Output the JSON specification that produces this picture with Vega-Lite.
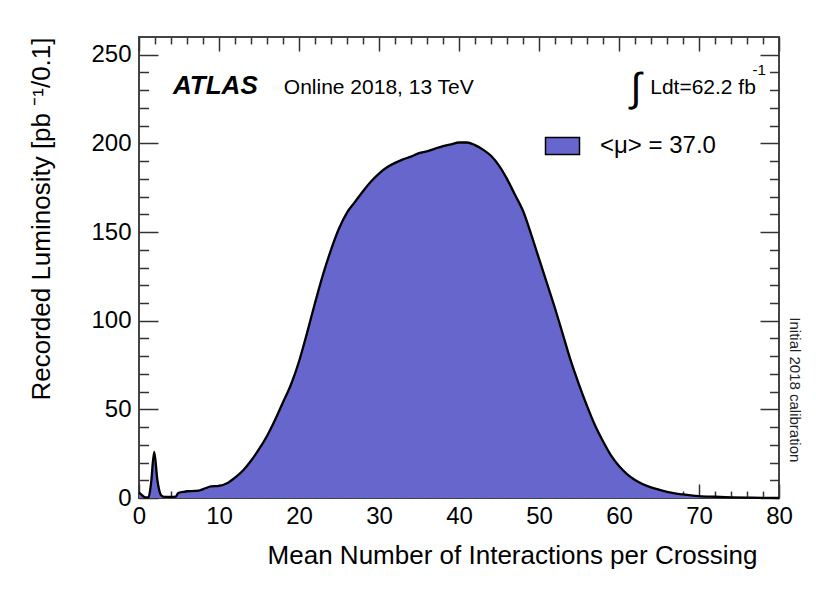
{
  "$schema": "https://vega.github.io/schema/vega-lite/v6.json",
  "width": 640,
  "height": 461,
  "autosize": {"type": "none"},
  "padding": {"left": 139, "top": 37, "right": 37, "bottom": 91},
  "background": "white",
  "config": {
    "font": "Liberation Sans",
    "view": {"stroke": "#444", "strokeWidth": 2},
    "axis": {"domain": false, "grid": false, "tickColor": "#333", "tickWidth": 1.5, "labelColor": "black", "titleColor": "black", "titleFontWeight": "normal", "labelFont": "Liberation Sans", "titleFont": "Liberation Sans"}
  },
  "datasets": {
    "lumi": [
      {"mu": 0, "lum": 3}, {"mu": 0.4, "lum": 1.5}, {"mu": 0.8, "lum": 0.3}, {"mu": 1.2, "lum": 0.5},
      {"mu": 1.5, "lum": 8}, {"mu": 1.9, "lum": 26}, {"mu": 2.3, "lum": 10}, {"mu": 2.7, "lum": 2},
      {"mu": 3.0, "lum": 0.8}, {"mu": 3.5, "lum": 0.6}, {"mu": 4.0, "lum": 0.6}, {"mu": 4.6, "lum": 0.8},
      {"mu": 4.9, "lum": 2.8}, {"mu": 5.5, "lum": 3.4}, {"mu": 6, "lum": 3.8}, {"mu": 7, "lum": 4},
      {"mu": 7.6, "lum": 4.3}, {"mu": 8.3, "lum": 5.5}, {"mu": 9, "lum": 6.5}, {"mu": 10, "lum": 6.8},
      {"mu": 11, "lum": 8.3}, {"mu": 12, "lum": 11.5}, {"mu": 13, "lum": 15.5}, {"mu": 14, "lum": 21},
      {"mu": 15, "lum": 27.5}, {"mu": 16, "lum": 35}, {"mu": 17, "lum": 44}, {"mu": 18, "lum": 54},
      {"mu": 19, "lum": 64}, {"mu": 20, "lum": 77}, {"mu": 21, "lum": 93}, {"mu": 22, "lum": 110},
      {"mu": 23, "lum": 126}, {"mu": 24, "lum": 140}, {"mu": 25, "lum": 152}, {"mu": 26, "lum": 161},
      {"mu": 27, "lum": 167}, {"mu": 28, "lum": 173}, {"mu": 29, "lum": 178.5}, {"mu": 30, "lum": 183},
      {"mu": 31, "lum": 186.5}, {"mu": 32, "lum": 189}, {"mu": 33, "lum": 191}, {"mu": 34, "lum": 192.5},
      {"mu": 35, "lum": 194.5}, {"mu": 36, "lum": 195.5}, {"mu": 37, "lum": 197}, {"mu": 38, "lum": 198.5},
      {"mu": 39, "lum": 199.5}, {"mu": 40, "lum": 200.5}, {"mu": 41, "lum": 200.5}, {"mu": 42, "lum": 199},
      {"mu": 43, "lum": 196.5}, {"mu": 44, "lum": 193}, {"mu": 45, "lum": 187.5}, {"mu": 46, "lum": 180},
      {"mu": 47, "lum": 171}, {"mu": 48, "lum": 162}, {"mu": 49, "lum": 149}, {"mu": 50, "lum": 135},
      {"mu": 51, "lum": 121}, {"mu": 52, "lum": 107}, {"mu": 53, "lum": 92}, {"mu": 54, "lum": 77},
      {"mu": 55, "lum": 64}, {"mu": 56, "lum": 52}, {"mu": 57, "lum": 41}, {"mu": 58, "lum": 32},
      {"mu": 59, "lum": 24}, {"mu": 60, "lum": 18}, {"mu": 61, "lum": 13.5}, {"mu": 62, "lum": 10.2},
      {"mu": 63, "lum": 7.8}, {"mu": 64, "lum": 6}, {"mu": 65, "lum": 4.7}, {"mu": 66, "lum": 3.5},
      {"mu": 67, "lum": 2.6}, {"mu": 68, "lum": 2}, {"mu": 69, "lum": 1.5}, {"mu": 70, "lum": 1.1},
      {"mu": 72, "lum": 0.7}, {"mu": 74, "lum": 0.4}, {"mu": 76, "lum": 0.2}, {"mu": 78, "lum": 0.1},
      {"mu": 80, "lum": 0}
    ]
  },
  "layer": [
    {
      "data": {"name": "lumi"},
      "mark": {"type": "area", "interpolate": "monotone"},
      "encoding": {
        "x": {
          "field": "mu", "type": "quantitative",
          "scale": {"domain": [0, 80], "nice": false, "zero": false},
          "axis": {
            "orient": "bottom",
            "values": [0,2,4,6,8,10,12,14,16,18,20,22,24,26,28,30,32,34,36,38,40,42,44,46,48,50,52,54,56,58,60,62,64,66,68,70,72,74,76,78,80],
            "labelExpr": "datum.value % 10 === 0 ? datum.label : ''",
            "tickSize": {"condition": {"test": "datum.value % 10 === 0", "value": -14}, "value": -7},
            "labelPadding": 20,
            "labelFontSize": 24,
            "labelFlush": false,
            "labelOverlap": false,
            "title": "Mean Number of Interactions per Crossing",
            "titleFontSize": 26,
            "titleX": 618,
            "titleAlign": "right",
            "titlePadding": 7
          }
        },
        "y": {
          "field": "lum", "type": "quantitative",
          "scale": {"domain": [0, 260], "nice": false},
          "axis": {
            "orient": "left",
            "values": [0,10,20,30,40,50,60,70,80,90,100,110,120,130,140,150,160,170,180,190,200,210,220,230,240,250],
            "labelExpr": "datum.value % 50 === 0 ? datum.label : ''",
            "tickSize": {"condition": {"test": "datum.value % 50 === 0", "value": -19}, "value": -9.5},
            "labelPadding": 27,
            "labelFontSize": 24,
            "labelFlush": false,
            "labelOverlap": false,
            "title": "Recorded Luminosity [pb ⁻¹/0.1]",
            "titleFontSize": 26,
            "titleAnchor": "end",
            "titlePadding": 36
          }
        },
        "color": {
          "datum": "<μ> = 37.0",
          "scale": {"range": ["#6666cc"]},
          "legend": {
            "orient": "none",
            "legendX": 411.5,
            "legendY": 97,
            "title": null,
            "padding": 0,
            "labelFontSize": 24,
            "labelColor": "black",
            "labelOffset": 25.5,
            "symbolType": "M-2,-1H2V1H-2Z",
            "symbolSize": 289,
            "symbolStrokeColor": "black",
            "symbolStrokeWidth": 1.5,
            "symbolOpacity": 1
          }
        }
      }
    },
    {
      "data": {"name": "lumi"},
      "mark": {"type": "line", "interpolate": "monotone", "color": "black", "strokeWidth": 2.3},
      "encoding": {
        "x": {
          "field": "mu", "type": "quantitative",
          "scale": {"domain": [0, 80], "nice": false, "zero": false},
          "axis": {
            "orient": "top",
            "values": [0,2,4,6,8,10,12,14,16,18,20,22,24,26,28,30,32,34,36,38,40,42,44,46,48,50,52,54,56,58,60,62,64,66,68,70,72,74,76,78,80],
            "labels": false,
            "title": null,
            "tickSize": {"condition": {"test": "datum.value % 10 === 0", "value": -14}, "value": -7}
          }
        },
        "y": {
          "field": "lum", "type": "quantitative",
          "scale": {"domain": [0, 260], "nice": false},
          "axis": {
            "orient": "right",
            "values": [0,10,20,30,40,50,60,70,80,90,100,110,120,130,140,150,160,170,180,190,200,210,220,230,240,250],
            "labels": false,
            "title": null,
            "tickSize": {"condition": {"test": "datum.value % 50 === 0", "value": -19}, "value": -9.5}
          }
        }
      }
    },
    {
      "data": {"values": [{"t": "ATLAS"}]},
      "mark": {"type": "text", "align": "left", "baseline": "alphabetic", "fontSize": 26, "fontWeight": "bold", "fontStyle": "italic", "color": "black"},
      "encoding": {
        "x": {"datum": 4.25, "type": "quantitative", "axis": null},
        "y": {"datum": 228, "type": "quantitative", "axis": null},
        "text": {"field": "t"}
      }
    },
    {
      "data": {"values": [{"t": "Online 2018, 13 TeV"}]},
      "mark": {"type": "text", "align": "left", "baseline": "alphabetic", "fontSize": 21, "color": "black"},
      "encoding": {
        "x": {"datum": 18.1, "type": "quantitative", "axis": null},
        "y": {"datum": 228, "type": "quantitative", "axis": null},
        "text": {"field": "t"}
      }
    },
    {
      "data": {"values": [{"t": "∫"}]},
      "mark": {"type": "text", "align": "left", "baseline": "alphabetic", "fontSize": 40, "color": "black"},
      "encoding": {
        "x": {"datum": 61.4, "type": "quantitative", "axis": null},
        "y": {"datum": 224, "type": "quantitative", "axis": null},
        "text": {"field": "t"}
      }
    },
    {
      "data": {"values": [{"t": "Ldt=62.2 fb"}]},
      "mark": {"type": "text", "align": "left", "baseline": "alphabetic", "fontSize": 21, "color": "black"},
      "encoding": {
        "x": {"datum": 63.9, "type": "quantitative", "axis": null},
        "y": {"datum": 228, "type": "quantitative", "axis": null},
        "text": {"field": "t"}
      }
    },
    {
      "data": {"values": [{"t": "-1"}]},
      "mark": {"type": "text", "align": "left", "baseline": "alphabetic", "fontSize": 15, "color": "black"},
      "encoding": {
        "x": {"datum": 76.7, "type": "quantitative", "axis": null},
        "y": {"datum": 238.5, "type": "quantitative", "axis": null},
        "text": {"field": "t"}
      }
    },
    {
      "data": {"values": [{"t": "Initial 2018 calibration"}]},
      "mark": {"type": "text", "align": "center", "baseline": "middle", "angle": 90, "fontSize": 15, "dx": 0, "dy": -16, "color": "#222"},
      "encoding": {
        "x": {"datum": 80, "type": "quantitative", "axis": null},
        "y": {"datum": 61, "type": "quantitative", "axis": null},
        "text": {"field": "t"}
      }
    }
  ],
  "resolve": {"axis": {"x": "independent", "y": "independent"}}
}
